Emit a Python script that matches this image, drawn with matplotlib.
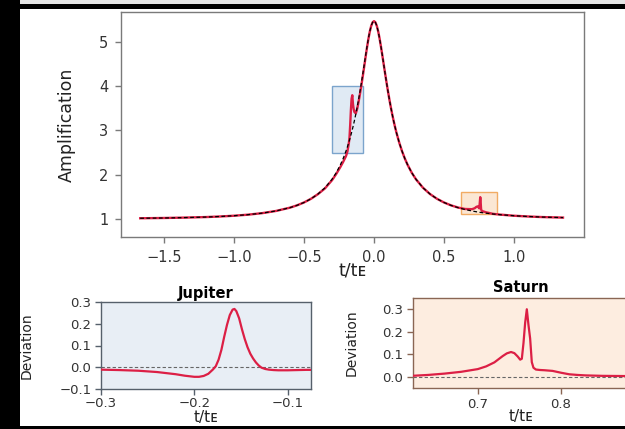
import matplotlib
matplotlib.use("Agg")
import matplotlib.pyplot as plt
from matplotlib.patches import Rectangle

# ---------------- data ----------------
t_main = [-1.67, -1.5, -1.35, -1.2, -1.1, -1.0, -0.9, -0.8, -0.7, -0.6, -0.55, -0.5,
          -0.45, -0.4, -0.35, -0.3, -0.27, -0.24, -0.22, -0.2, -0.19, -0.18, -0.175,
          -0.17, -0.165, -0.16, -0.155, -0.15, -0.145, -0.14, -0.13, -0.12, -0.11,
          -0.1, -0.09, -0.08, -0.07, -0.06, -0.05, -0.04, -0.03, -0.02, -0.01, 0.0,
          0.01, 0.02, 0.03, 0.04, 0.05, 0.06, 0.07, 0.08, 0.09, 0.1, 0.11, 0.12, 0.13,
          0.14, 0.15, 0.16, 0.18, 0.2, 0.22, 0.24, 0.27, 0.3, 0.35, 0.4, 0.45, 0.5,
          0.55, 0.6, 0.65, 0.7, 0.72, 0.73, 0.74, 0.748, 0.752, 0.756, 0.759, 0.762,
          0.765, 0.77, 0.78, 0.8, 0.85, 0.9, 1.0, 1.1, 1.2, 1.35]

amp_single = [1.014, 1.020, 1.029, 1.041, 1.054, 1.071, 1.095, 1.129, 1.179, 1.254,
              1.306, 1.371, 1.454, 1.562, 1.704, 1.895, 2.042, 2.223, 2.367, 2.534,
              2.628, 2.729, 2.782, 2.838, 2.895, 2.955, 3.018, 3.083, 3.150, 3.220,
              3.369, 3.529, 3.700, 3.883, 4.076, 4.277, 4.484, 4.692, 4.893, 5.080,
              5.241, 5.367, 5.447, 5.474, 5.447, 5.367, 5.241, 5.080, 4.893, 4.692,
              4.484, 4.277, 4.076, 3.883, 3.700, 3.529, 3.369, 3.220, 3.083, 2.955,
              2.729, 2.534, 2.367, 2.223, 2.042, 1.895, 1.704, 1.562, 1.454, 1.371,
              1.306, 1.254, 1.212, 1.179, 1.167, 1.162, 1.156, 1.152, 1.150, 1.148,
              1.147, 1.145, 1.144, 1.142, 1.137, 1.129, 1.110, 1.095, 1.071, 1.054,
              1.041, 1.029]

amp_planet = [1.014, 1.020, 1.029, 1.041, 1.054, 1.071, 1.095, 1.129, 1.179, 1.254,
              1.306, 1.371, 1.454, 1.560, 1.690, 1.874, 2.015, 2.174, 2.291, 2.420,
              2.523, 2.702, 2.838, 3.122, 3.459, 3.717, 3.797, 3.592, 3.481, 3.420,
              3.386, 3.490, 3.648, 3.829, 4.023, 4.226, 4.445, 4.665, 4.875, 5.070,
              5.236, 5.365, 5.446, 5.474, 5.447, 5.367, 5.241, 5.080, 4.893, 4.692,
              4.484, 4.277, 4.076, 3.883, 3.700, 3.529, 3.369, 3.220, 3.083, 2.955,
              2.729, 2.534, 2.367, 2.223, 2.042, 1.895, 1.704, 1.562, 1.454, 1.371,
              1.306, 1.257, 1.224, 1.219, 1.242, 1.269, 1.283, 1.254, 1.239, 1.377,
              1.491, 1.374, 1.218, 1.179, 1.170, 1.149, 1.114, 1.097, 1.071, 1.054,
              1.041, 1.029]

jup_t = [-0.30, -0.28, -0.26, -0.24, -0.22, -0.21, -0.20, -0.195, -0.19, -0.185,
         -0.18, -0.177, -0.174, -0.171, -0.168, -0.165, -0.162, -0.159, -0.157,
         -0.155, -0.152, -0.149, -0.146, -0.143, -0.14, -0.137, -0.134, -0.131,
         -0.128, -0.124, -0.12, -0.115, -0.11, -0.10, -0.09, -0.08, -0.074]
jup_dev = [-0.011, -0.013, -0.016, -0.022, -0.032, -0.039, -0.044, -0.044, -0.040,
           -0.030, -0.010, 0.005, 0.035, 0.080, 0.140, 0.195, 0.240, 0.265, 0.268,
           0.258, 0.225, 0.175, 0.130, 0.092, 0.062, 0.040, 0.022, 0.008, -0.002,
           -0.008, -0.011, -0.013, -0.014, -0.014, -0.013, -0.012, -0.012]

sat_t = [0.62, 0.64, 0.66, 0.68, 0.70, 0.71, 0.72, 0.73, 0.735, 0.74, 0.744, 0.748,
         0.751, 0.753, 0.755, 0.757, 0.759, 0.761, 0.763, 0.765, 0.767, 0.77, 0.775,
         0.78, 0.79, 0.80, 0.81, 0.82, 0.83, 0.85, 0.88]
sat_dev = [0.004, 0.008, 0.014, 0.022, 0.034, 0.046, 0.064, 0.092, 0.104, 0.110,
           0.105, 0.090, 0.076, 0.080, 0.150, 0.240, 0.300, 0.230, 0.170, 0.065,
           0.040, 0.032, 0.030, 0.029, 0.026, 0.018, 0.011, 0.008, 0.006, 0.004, 0.003]

main_xticks = [-1.5, -1.0, -0.5, 0.0, 0.5, 1.0]
main_yticks = [1, 2, 3, 4, 5]
jup_xticks = [-0.3, -0.2, -0.1]
jup_yticks = [-0.1, 0.0, 0.1, 0.2, 0.3]
sat_xticks = [0.7, 0.8]
sat_yticks = [0.0, 0.1, 0.2, 0.3]

# zoom boxes (t range, amplification range)
jup_box = (-0.30, -0.08, 2.5, 4.0)
sat_box = (0.62, 0.88, 1.1, 1.6)

# ---------------- styling ----------------
plt.rcParams['font.family'] = ['DejaVu Sans']
W, H = 625, 429
fig = plt.figure(figsize=(W / 100, H / 100), dpi=100)
fig.patch.set_facecolor('white')

RED = '#dc1f45'
XLAB = 't/t\u1d07'


def px_axes(l, r, t, b):
    return fig.add_axes([l / W, 1 - b / H, (r - l) / W, (b - t) / H])


def style(ax, spine_col, tick_size, tick_col='#333333'):
    for s in ax.spines.values():
        s.set_color(spine_col)
        s.set_linewidth(1.0)
    ax.tick_params(direction='out', length=4, width=1.0, color=spine_col,
                   labelsize=tick_size, labelcolor=tick_col, pad=3)


def fmt(vals):
    return [f"{v:.1f}".replace('-', '\u2212') for v in vals]


# main axes
ax = px_axes(121, 584, 12, 237)
ax.plot(t_main, amp_planet, color=RED, lw=1.7, zorder=3)
ax.plot(t_main, amp_single, color='black', lw=0.9, ls=(0, (3, 2)), zorder=4)
ax.add_patch(Rectangle((jup_box[0], jup_box[2]), jup_box[1] - jup_box[0],
                       jup_box[3] - jup_box[2], facecolor='#dde8f3',
                       edgecolor='#6f9cc8', lw=1.0, alpha=0.9, zorder=1))
ax.add_patch(Rectangle((sat_box[0], sat_box[2]), sat_box[1] - sat_box[0],
                       sat_box[3] - sat_box[2], facecolor='#fbe5d0',
                       edgecolor='#f0a456', lw=1.0, alpha=0.9, zorder=1))
ax.set_xlim(-1.807, 1.5)
ax.set_ylim(0.59, 5.68)
ax.set_xticks(main_xticks)
ax.set_xticklabels(fmt(main_xticks))
ax.set_yticks(main_yticks)
style(ax, '#7a7a7a', 10.5)
ax.tick_params(axis='x', pad=5)
ax.tick_params(axis='y', pad=5)
ax.set_ylabel('Amplification', fontsize=12.5, color='#222222')
ax.set_xlabel(XLAB, fontsize=12.5, color='#222222')
ax.yaxis.set_label_coords(-0.117, 0.5)
ax.xaxis.set_label_coords(0.5, -0.151)
ax.xaxis.label.set_va('center')
ax.yaxis.label.set_va('center')

# Jupiter panel
axj = px_axes(101, 311, 302, 389)
axj.set_facecolor('#e8eef5')
axj.axhline(0, color='#666666', lw=0.8, ls=(0, (3, 2)), zorder=2)
axj.plot(jup_t, jup_dev, color=RED, lw=1.6, zorder=3)
axj.set_xlim(-0.3, -0.075)
axj.set_ylim(-0.1, 0.3)
axj.set_xticks(jup_xticks)
axj.set_xticklabels(fmt(jup_xticks))
axj.set_yticks(jup_yticks)
axj.set_yticklabels(fmt(jup_yticks))
style(axj, '#56606b', 9.5)
axj.tick_params(axis='x', pad=2)
axj.set_title('Jupiter', fontsize=10.5, fontweight='bold', pad=3)
axj.set_ylabel('Deviation', fontsize=10, color='#222222')
axj.set_xlabel(XLAB, fontsize=11, color='#222222')
axj.yaxis.set_label_coords(-0.352, 0.5)
axj.xaxis.set_label_coords(0.5, -0.322)
axj.xaxis.label.set_va('center')
axj.yaxis.label.set_va('center')

# Saturn panel
axs = px_axes(413, 629, 298, 388)
axs.set_facecolor('#fdede0')
axs.axhline(0, color='#666666', lw=0.8, ls=(0, (3, 2)), zorder=2)
axs.plot(sat_t, sat_dev, color=RED, lw=1.6, zorder=3)
axs.set_xlim(0.622, 0.882)
axs.set_ylim(-0.05, 0.35)
axs.set_xticks(sat_xticks)
axs.set_xticklabels(fmt(sat_xticks))
axs.set_yticks(sat_yticks)
axs.set_yticklabels(fmt(sat_yticks))
style(axs, '#8a6654', 9.5)
axs.tick_params(axis='x', pad=3)
axs.set_title('Saturn', fontsize=10.5, fontweight='bold', pad=4)
axs.set_ylabel('Deviation', fontsize=10, color='#222222')
axs.set_xlabel(XLAB, fontsize=11, color='#222222')
axs.yaxis.set_label_coords(-0.282, 0.5)
axs.xaxis.set_label_coords(0.5, -0.322)
axs.xaxis.label.set_va('center')
axs.yaxis.label.set_va('center')


# screenshot frame (black borders)
def frame_rect(x0, y0, x1, y1, col):
    fig.add_artist(Rectangle((x0 / W, 1 - y1 / H), (x1 - x0) / W, (y1 - y0) / H,
                             transform=fig.transFigure, facecolor=col,
                             edgecolor='none', zorder=20))


frame_rect(0, 0, 20, H, 'black')
frame_rect(0, 0, W, 9, 'black')
frame_rect(20, 0, W, 3.5, '#e6e6e6')
frame_rect(0, 425.5, W, 428.5, 'black')

fig.savefig('out.png', dpi=100, facecolor='white')
